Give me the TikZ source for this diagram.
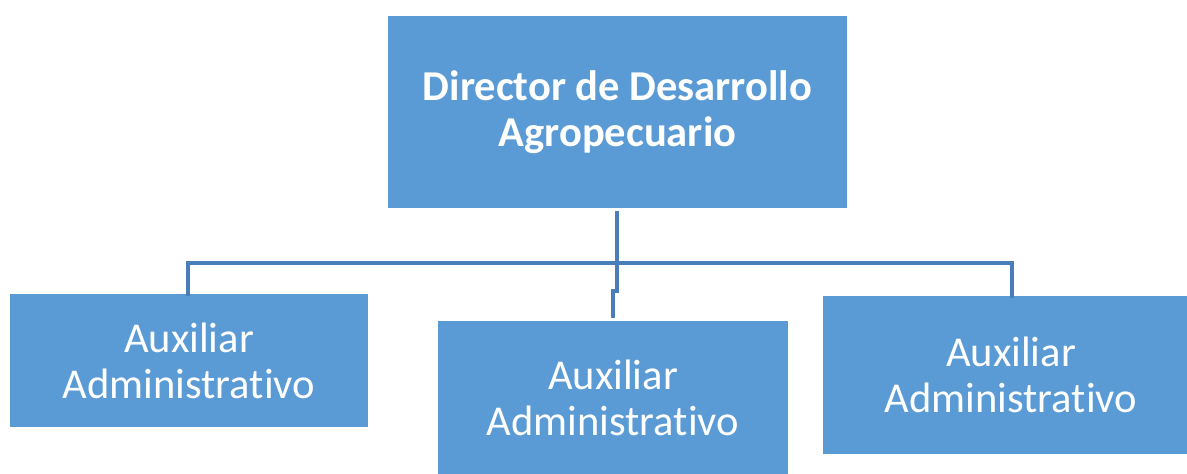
\documentclass[tikz,border=0pt]{standalone}
\usepackage{fontspec}
\setmainfont[Ligatures={NoCommon}]{Carlito}
\definecolor{boxblue}{HTML}{5B9BD5}
\definecolor{lineblue}{HTML}{4A7EBB}
\begin{document}
\begin{tikzpicture}[x=1bp,y=-1bp,
  orgbox/.style={fill=boxblue,draw=none,text=white,align=center,inner sep=0pt},
  conn/.style={draw=lineblue,line width=3.2bp}]
\useasboundingbox (0,0) rectangle (1187,474);
\node[orgbox,minimum width=459bp,minimum height=192bp,font=\fontsize{42.7}{46}\selectfont\bfseries] (top) at (617.5,112) {Director de Desarrollo\\Agropecuario};
\node[orgbox,minimum width=358bp,minimum height=133bp,font=\fontsize{42.7}{46}\selectfont] (left) at (189,360.5) {Auxiliar\\Administrativo};
\node[orgbox,minimum width=350bp,minimum height=153bp,font=\fontsize{42.7}{46}\selectfont] (mid) at (613,397.5) {Auxiliar\\Administrativo};
\node[orgbox,minimum width=376bp,minimum height=158bp,font=\fontsize{42.7}{46}\selectfont] (right) at (1011,375) {Auxiliar\\Administrativo};
\coordinate (hl) at (188,263);
\coordinate (hr) at (1012,263);
\coordinate (jog) at (617,291);
\draw[conn] ([xshift=-0.5bp,yshift=-3bp]top.south) -- (jog) -| ([yshift=3bp]mid.north);
\draw[conn] ([yshift=-2bp]left.north -| hl) -- (hl) -- (hr) -- ([yshift=-2bp]right.north -| hr);
\end{tikzpicture}
\end{document}
